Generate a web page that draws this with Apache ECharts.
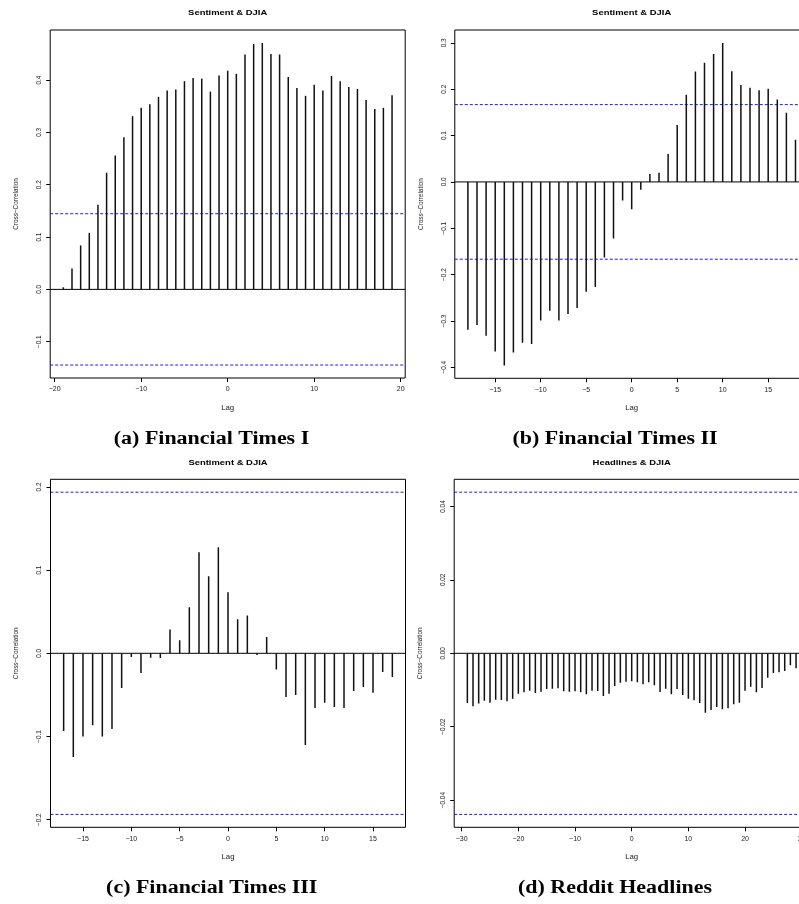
<!DOCTYPE html>
<html>
<head>
<meta charset="utf-8">
<script src="https://cdn.jsdelivr.net/npm/echarts@6/dist/echarts.min.js"></script>
<style>
html,body{margin:0;padding:0;background:#fff;overflow:hidden;width:799px;height:904px;}
#c{width:840px;height:904px;}
</style>
</head>
<body>
<div id="c"></div>
<script>
// ---------- DATA ----------
const lagsA = [-19,-18,-17,-16,-15,-14,-13,-12,-11,-10,-9,-8,-7,-6,-5,-4,-3,-2,-1,0,1,2,3,4,5,6,7,8,9,10,11,12,13,14,15,16,17,18,19];
const ccfA  = [0.004,0.040,0.084,0.108,0.162,0.223,0.256,0.291,0.331,0.347,0.354,0.368,0.380,0.382,0.398,0.404,0.403,0.378,0.409,0.418,0.412,0.449,0.469,0.471,0.450,0.449,0.406,0.385,0.370,0.391,0.380,0.408,0.398,0.387,0.383,0.362,0.345,0.347,0.371];
const confA = 0.1446;

const lagsB = [-18,-17,-16,-15,-14,-13,-12,-11,-10,-9,-8,-7,-6,-5,-4,-3,-2,-1,0,1,2,3,4,5,6,7,8,9,10,11,12,13,14,15,16,17,18];
const ccfB  = [-0.319,-0.309,-0.332,-0.366,-0.396,-0.368,-0.347,-0.350,-0.299,-0.278,-0.299,-0.285,-0.272,-0.237,-0.227,-0.163,-0.122,-0.040,-0.059,-0.017,0.017,0.020,0.060,0.123,0.188,0.238,0.257,0.276,0.300,0.239,0.209,0.203,0.198,0.201,0.178,0.149,0.091];
const confB = 0.1668;

const lagsC = [-17,-16,-15,-14,-13,-12,-11,-10,-9,-8,-7,-6,-5,-4,-3,-2,-1,0,1,2,3,4,5,6,7,8,9,10,11,12,13,14,15,16,17];
const ccfC  = [-0.0935,-0.1248,-0.0999,-0.0866,-0.0999,-0.0911,-0.0417,-0.0044,-0.0237,-0.0052,-0.0056,0.0285,0.0156,0.0554,0.1215,0.0927,0.1276,0.0734,0.0409,0.0453,-0.0020,0.0196,-0.0196,-0.0526,-0.0501,-0.1103,-0.0658,-0.0594,-0.0646,-0.0658,-0.0454,-0.0405,-0.0473,-0.0225,-0.0285];
const confC = 0.1937;

const lagsD = [-29,-28,-27,-26,-25,-24,-23,-22,-21,-20,-19,-18,-17,-16,-15,-14,-13,-12,-11,-10,-9,-8,-7,-6,-5,-4,-3,-2,-1,0,1,2,3,4,5,6,7,8,9,10,11,12,13,14,15,16,17,18,19,20,21,22,23,24,25,26,27,28,29];
const ccfD  = [-0.01355,-0.01445,-0.0137,-0.0129,-0.01345,-0.01264,-0.01273,-0.01309,-0.01236,-0.0110,-0.01064,-0.01018,-0.01082,-0.01045,-0.00973,-0.00964,-0.00955,-0.01036,-0.01045,-0.01036,-0.01064,-0.01118,-0.01018,-0.01027,-0.01164,-0.0110,-0.00891,-0.0080,-0.00773,-0.00764,-0.00791,-0.00845,-0.00791,-0.00873,-0.01055,-0.00964,-0.01118,-0.00973,-0.01136,-0.01236,-0.01282,-0.01355,-0.01618,-0.01545,-0.01464,-0.01527,-0.0150,-0.01391,-0.01345,-0.01018,-0.00909,-0.01064,-0.00945,-0.00664,-0.00536,-0.00518,-0.00482,-0.00327,-0.00409];
const confD = 0.0439;

const xTicksA = [-20,-10,0,10,20];
const xTicksB = [-15,-10,-5,0,5,10,15];
const xTicksC = [-15,-10,-5,0,5,10,15];
const xTicksD = [-30,-20,-10,0,10,20,30];
const yTicksA = [-0.1,0.0,0.1,0.2,0.3,0.4];
const yTicksB = [-0.4,-0.3,-0.2,-0.1,0.0,0.1,0.2,0.3];
const yTicksC = [-0.2,-0.1,0.0,0.1,0.2];
const yTicksD = [-0.04,-0.02,0.00,0.02,0.04];

const titles   = ['Sentiment & DJIA','Sentiment & DJIA','Sentiment & DJIA','Headlines & DJIA'];
const captions = ['(a) Financial Times I','(b) Financial Times II','(c) Financial Times III','(d) Reddit Headlines'];

// ---------- LAYOUT ----------
const panels = [
  {lags:lagsA, ccf:ccfA, conf:confA, xt:xTicksA, yt:yTicksA, ydec:1, xr:[-20.52,20.52], yr:[-0.1694,0.4958], grid:{left:50.2,top:30,width:355,height:348}},
  {lags:lagsB, ccf:ccfB, conf:confB, xt:xTicksB, yt:yTicksB, ydec:1, xr:[-19.44,19.44], yr:[-0.4238,0.3278], grid:{left:454.8,top:30,width:353.8,height:348.3}},
  {lags:lagsC, ccf:ccfC, conf:confC, xt:xTicksC, yt:yTicksC, ydec:1, xr:[-18.36,18.36], yr:[-0.2092,0.2092], grid:{left:50.5,top:479.3,width:355,height:348}},
  {lags:lagsD, ccf:ccfD, conf:confD, xt:xTicksD, yt:yTicksD, ydec:2, xr:[-31.32,31.32], yr:[-0.04741,0.04741], grid:{left:454.2,top:479.3,width:355,height:348}}
];

const FONT = 'Liberation Sans';
function fmt(v, dec){ return (v < 0 ? '\u2212' : '') + Math.abs(v).toFixed(dec); }

const grids = [], xAxes = [], yAxes = [], series = [], graphics = [];
panels.forEach((p, i) => {
  grids.push(Object.assign({show:true, borderColor:'#000', borderWidth:1, backgroundColor:'transparent', containLabel:false}, p.grid));
  xAxes.push({
    type:'value', gridIndex:i, min:p.xr[0], max:p.xr[1], position:'bottom',
    axisLine:{show:false, onZero:false}, splitLine:{show:false},
    axisTick:{show:true, customValues:p.xt, length:4, lineStyle:{color:'#000', width:1}},
    axisLabel:{show:true, customValues:p.xt, margin:8, fontFamily:FONT, fontSize:7, color:'#222', formatter:v=>fmt(v,0)},
    name:'Lag', nameLocation:'middle', nameGap:26, nameTextStyle:{fontFamily:FONT, fontSize:7.8, color:'#222'}
  });
  yAxes.push({
    type:'value', gridIndex:i, min:p.yr[0], max:p.yr[1], position:'left',
    axisLine:{show:false, onZero:false}, splitLine:{show:false},
    axisTick:{show:true, customValues:p.yt, length:4, lineStyle:{color:'#000', width:1}},
    axisLabel:{show:true, customValues:p.yt, rotate:90, margin:8, fontFamily:FONT, fontSize:6.4, color:'#222', formatter:v=>fmt(v,p.ydec)},
    name:'Cross\u2212Correlation', nameLocation:'middle', nameGap:31, nameRotate:90,
    nameTextStyle:{fontFamily:FONT, fontSize:6.4, color:'#222'}
  });
  // zero line
  series.push({
    type:'line', xAxisIndex:i, yAxisIndex:i, silent:true, symbol:'none', animation:false,
    data:[[p.xr[0],0],[p.xr[1],0]], lineStyle:{color:'#000', width:1, type:'solid'}, z:3
  });
  // confidence lines
  [p.conf, -p.conf].forEach(c => {
    series.push({
      type:'line', xAxisIndex:i, yAxisIndex:i, silent:true, symbol:'none', animation:false,
      data:[[p.xr[0],c],[p.xr[1],c]], lineStyle:{color:'#1a1aff', width:1, type:[3,2]}, z:3
    });
  });
  // ccf spikes
  series.push({
    type:'custom', xAxisIndex:i, yAxisIndex:i, silent:true, clip:true, z:4,
    data: p.lags.map((l, k) => [l, p.ccf[k]]),
    renderItem: function(params, api){
      const x = api.value(0), y = api.value(1);
      const a = api.coord([x, 0]), b = api.coord([x, y]);
      return {type:'line', shape:{x1:a[0], y1:a[1], x2:b[0], y2:b[1]}, style:{stroke:'#111', lineWidth:1.5}};
    }
  });
  const cx = p.grid.left + p.grid.width/2;
  graphics.push({type:'text', silent:true, x:cx, y:p.grid.top-17, scaleX:1.18,
    style:{x:0, y:0, text:titles[i], textAlign:'center', textVerticalAlign:'middle', font:'bold 8px "Liberation Sans"', fill:'#000'}});
});
const capPos = [[211.5,439],[615,439],[211.7,888.5],[615,888.5]];
captions.forEach((c, i) => {
  graphics.push({type:'text', silent:true, x:capPos[i][0], y:capPos[i][1], scaleX:1.22,
    style:{x:0, y:0, text:c, textAlign:'center', textVerticalAlign:'middle', font:'bold 18px "Liberation Serif"', fill:'#000'}});
});

const chart = echarts.init(document.getElementById('c'), null, {renderer:'canvas', width:840, height:904});
chart.setOption({
  animation:false, backgroundColor:'#fff',
  grid:grids, xAxis:xAxes, yAxis:yAxes, series:series, graphic:graphics
});
</script>
</body>
</html>
